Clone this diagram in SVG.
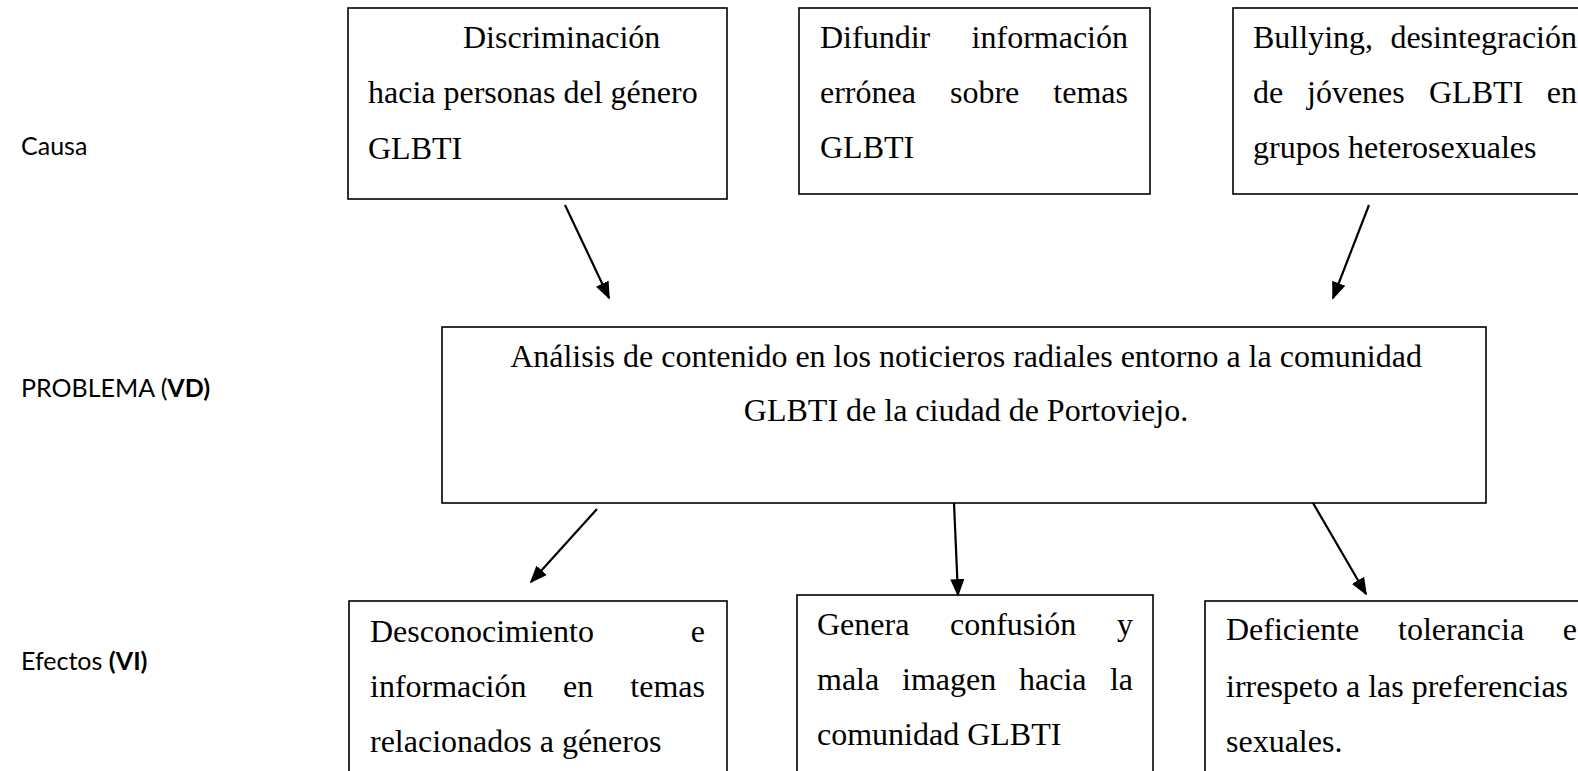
<svg xmlns="http://www.w3.org/2000/svg" width="1578" height="771" viewBox="0 0 1578 771">
<defs>
<style>
.box{fill:#fff;stroke:#000;stroke-width:1.6}
.t{font-family:"Liberation Serif","Times New Roman",serif;font-size:32px;fill:#000}
.lbl{font-family:"Lato","Liberation Sans",sans-serif;font-size:25px;fill:#000}
.b{font-weight:bold}
.c{stroke:#000;stroke-width:2.2;fill:none}
</style>
<marker id="ah" viewBox="0 0 10 8" refX="9" refY="4" markerWidth="8" markerHeight="7" orient="auto" markerUnits="strokeWidth">
<path d="M0,0 L10,4 L0,8 z" fill="#000"/>
</marker>
</defs>
<rect width="1578" height="771" fill="#fff"/>

<g id="labels">
<text class="lbl" x="21" y="155">Causa</text>
<text class="lbl" x="21" y="397">PROBLEMA (<tspan class="b">VD)</tspan></text>
<text class="lbl" x="21" y="670">Efectos <tspan class="b">(VI)</tspan></text>
</g>

<g id="cause1">
<rect class="box" x="348" y="8" width="379" height="191"/>
<text class="t" x="463" y="48">Discriminación</text>
<text class="t" x="368" y="103">hacia personas del género</text>
<text class="t" x="368" y="159">GLBTI</text>
</g>

<g id="cause2">
<rect class="box" x="799" y="8" width="351" height="186"/>
<text class="t" y="48"><tspan x="820">Difundir</tspan><tspan x="1128" text-anchor="end">información</tspan></text>
<text class="t" y="103"><tspan x="820">errónea</tspan><tspan x="950">sobre</tspan><tspan x="1128" text-anchor="end">temas</tspan></text>
<text class="t" x="820" y="158">GLBTI</text>
</g>

<g id="cause3">
<rect class="box" x="1233" y="8" width="360" height="186"/>
<text class="t" y="48"><tspan x="1253">Bullying,</tspan><tspan x="1577" text-anchor="end">desintegración</tspan></text>
<text class="t" y="103"><tspan x="1253">de</tspan><tspan x="1307">jóvenes</tspan><tspan x="1429">GLBTI</tspan><tspan x="1577" text-anchor="end">en</tspan></text>
<text class="t" x="1253" y="158">grupos heterosexuales</text>
</g>

<g id="problem">
<rect class="box" x="442" y="327" width="1044" height="176"/>
<text class="t" x="966" y="367" text-anchor="middle">Análisis de contenido en los noticieros radiales entorno a la comunidad</text>
<text class="t" x="966" y="421" text-anchor="middle">GLBTI de la ciudad de Portoviejo.</text>
</g>

<g id="effect1">
<rect class="box" x="349" y="601" width="378" height="200"/>
<text class="t" y="642"><tspan x="370">Desconocimiento</tspan><tspan x="705" text-anchor="end">e</tspan></text>
<text class="t" y="697"><tspan x="370">información</tspan><tspan x="563">en</tspan><tspan x="705" text-anchor="end">temas</tspan></text>
<text class="t" x="370" y="752">relacionados a géneros</text>
</g>

<g id="effect2">
<rect class="box" x="797" y="595" width="356" height="200"/>
<text class="t" y="635"><tspan x="817">Genera</tspan><tspan x="950">confusión</tspan><tspan x="1133" text-anchor="end">y</tspan></text>
<text class="t" y="690"><tspan x="817">mala</tspan><tspan x="902">imagen</tspan><tspan x="1019">hacia</tspan><tspan x="1133" text-anchor="end">la</tspan></text>
<text class="t" x="817" y="745">comunidad GLBTI</text>
</g>

<g id="effect3">
<rect class="box" x="1205" y="601" width="390" height="200"/>
<text class="t" y="640"><tspan x="1226">Deficiente</tspan><tspan x="1398">tolerancia</tspan><tspan x="1577" text-anchor="end">e</tspan></text>
<text class="t" x="1226" y="697">irrespeto a las preferencias</text>
<text class="t" x="1226" y="752">sexuales.</text>
</g>

<g id="connectors">
<line class="c" x1="565" y1="205" x2="609" y2="298" marker-end="url(#ah)"/>
<line class="c" x1="1369" y1="205" x2="1333" y2="298" marker-end="url(#ah)"/>
<line class="c" x1="597" y1="509" x2="531" y2="582" marker-end="url(#ah)"/>
<line class="c" x1="954" y1="503" x2="958" y2="595" marker-end="url(#ah)"/>
<line class="c" x1="1313" y1="503" x2="1366" y2="594" marker-end="url(#ah)"/>
</g>
</svg>
